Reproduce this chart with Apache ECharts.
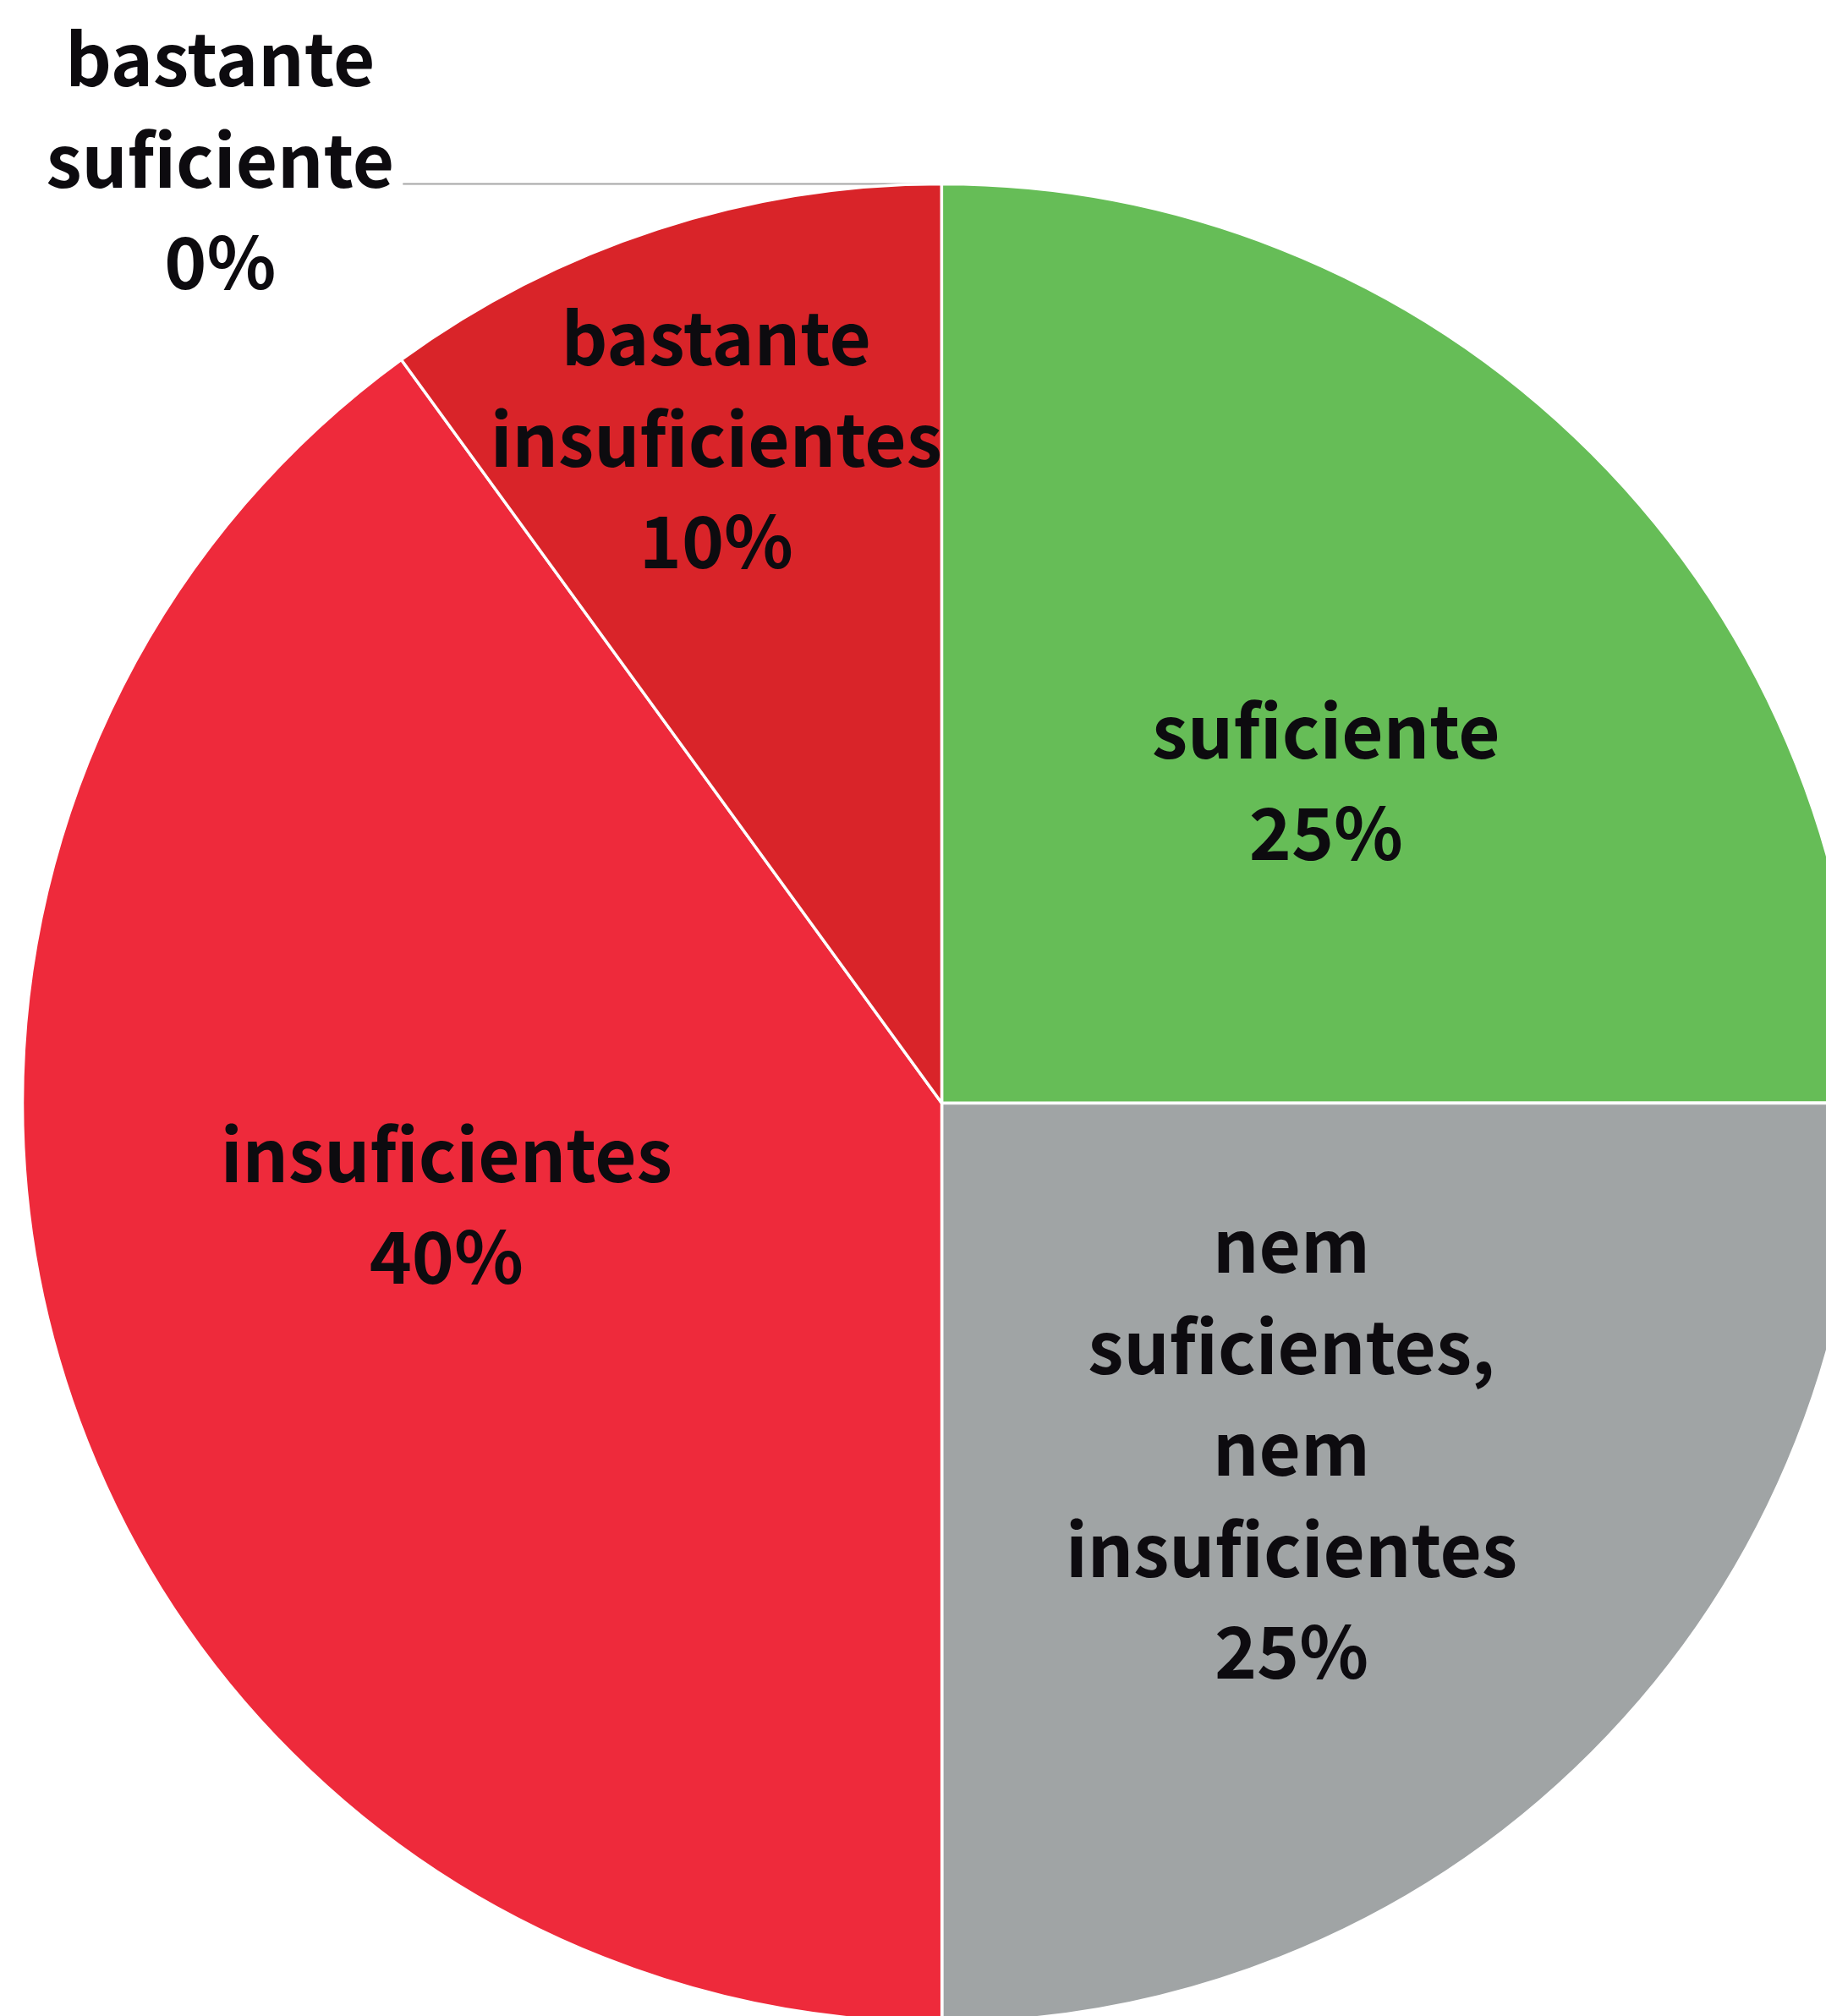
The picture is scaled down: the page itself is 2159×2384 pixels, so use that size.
<!DOCTYPE html>
<html>
<head>
<meta charset="utf-8">
<title>pie</title>
<script src="https://cdn.jsdelivr.net/npm/echarts@6/dist/echarts.min.js"></script>
<style>
    html, body { margin: 0; padding: 0; background: #fff; }
    #main { width: 2159px; height: 2384px; }
</style>
</head>
<body>
<div id="main"></div>
<script type="text/javascript">
    // categories and values (percent)
    var categories = ['bastante suficiente', 'suficiente', 'nem suficientes, nem insuficientes', 'insuficientes', 'bastante insuficientes'];
    var values = [0, 25, 25, 40, 10];
    var colors = ['#66BD57', '#66BD57', '#A0A4A5', '#EE2A3B', '#D92429'];

    // label nudges (padding: top, right, bottom, left)
    var labelPads = [[0, 0, 56, 0], [14, 0, 0, 136], [43, 0, 0, 54], [0, 132, 96, 0], [4, 22, 0, 0]];

    var textColor = '#0D0B0F';
    var font = '"Noto Sans CJK SC", "Open Sans", sans-serif';
    var fs = 85;

    function richLabel(p) {
        return p.name.split(' ').map(function (w) { return '{t|' + w + '}'; }).join('\n')
            + '\n{t|' + p.value + '%}';
    }
    var richStyle = {
        t: { align: 'center', fontSize: fs, fontWeight: 'bold', fontFamily: font, color: textColor, lineHeight: 120 },
        c: { width: 422, align: 'center', fontSize: fs, fontWeight: 'bold', fontFamily: font, color: textColor, lineHeight: 120 }
    };

    var data = [];      // filled slices
    var labelData = []; // transparent ring used only to place the small slice's label further out
    for (var i = 0; i < categories.length; i++) {
        var item = { name: categories[i], value: values[i], itemStyle: { color: colors[i] } };
        var lItem = { name: categories[i], value: values[i], label: { show: false }, labelLine: { show: false } };
        if (values[i] === 0) {
            item.label = {
                position: 'outside',
                padding: labelPads[i],
                formatter: function (p) {
                    return p.name.split(' ').map(function (w) { return '{c|' + w + '}'; }).join('\n')
                        + '\n{c|' + p.value + '%}';
                }
            };
            item.labelLine = { show: true, length: 0, length2: 637, lineStyle: { color: '#A6A6A6', width: 2 } };
        } else if (i === 4) {
            item.label = { show: false };
            item.labelLine = { show: false };
            lItem.label = { show: true, position: 'inside', padding: labelPads[i] };
        } else {
            item.label = { position: 'inside', padding: labelPads[i] };
            item.labelLine = { show: false };
        }
        data.push(item);
        labelData.push(lItem);
    }

    var labelBase = {
        show: true,
        formatter: richLabel,
        rich: richStyle
    };

    var myChart = echarts.init(document.getElementById('main'));
    myChart.setOption({
        animation: false,
        series: [
            {
                type: 'pie',
                center: [1113.5, 1304.5],
                radius: [0, 1087],
                startAngle: 90.01,
                clockwise: true,
                avoidLabelOverlap: false,
                itemStyle: { borderColor: '#ffffff', borderWidth: 3.5 },
                emphasis: { disabled: true },
                label: labelBase,
                data: data
            },
            {
                type: 'pie',
                center: [1113.5, 1304.5],
                radius: [561, 1087],
                startAngle: 90.01,
                clockwise: true,
                silent: true,
                avoidLabelOverlap: false,
                itemStyle: { color: 'rgba(0,0,0,0)', borderWidth: 0 },
                emphasis: { disabled: true },
                label: labelBase,
                data: labelData
            }
        ]
    });
</script>
</body>
</html>
